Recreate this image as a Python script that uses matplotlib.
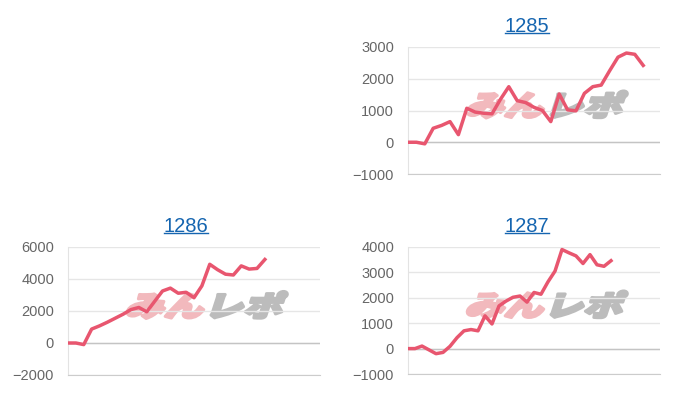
import matplotlib
matplotlib.use('Agg')
import matplotlib.pyplot as plt
from matplotlib.textpath import TextPath
from matplotlib.patches import PathPatch
from matplotlib.font_manager import FontProperties
from matplotlib.transforms import Affine2D, IdentityTransform
from matplotlib.lines import Line2D

# Datos (diferencia acumulada por dia)
maquinas = ['1285', '1286', '1287']
datos_1285 = [0, 0, -50, 440, 530, 650, 240, 1070, 950, 915, 895, 1350, 1750, 1310,
              1250, 1100, 1000, 650, 1520, 1020, 990, 1540, 1750, 1800, 2250, 2680,
              2810, 2770, 2420]
datos_1286 = [0, 0, -100, 870, 1070, 1300, 1550, 1800, 2090, 2220, 1950, 2600, 3250,
              3430, 3110, 3170, 2830, 3570, 4920, 4580, 4300, 4250, 4820, 4620, 4660,
              5220]
datos_1287 = [0, 0, 100, -50, -200, -150, 90, 430, 700, 750, 700, 1290, 970, 1680,
              1870, 2020, 2070, 1830, 2210, 2140, 2630, 3050, 3900, 3770, 3650, 3350,
              3700, 3300, 3240, 3460]
dias_eje = [30, 32, 36]  # cantidad de intervalos en el eje x de cada grafico

yticks_1285 = [-1000, 0, 1000, 2000, 3000]
yticks_1286 = [-2000, 0, 2000, 4000, 6000]
yticks_1287 = [-1000, 0, 1000, 2000, 3000, 4000]

plt.rcParams['font.family'] = ['Liberation Sans', 'DejaVu Sans']

W, H = 700, 400
fig = plt.figure(figsize=(W / 100, H / 100), dpi=100)

# posiciones de los ejes en pixeles (izq, arriba, der, abajo)
cajas = [(408, 47, 660, 174), (68, 247, 320, 375), (408, 247, 660, 374)]
titulos_pos = [(527, 31.5), (186, 231.5), (527, 231.5)]
series = [datos_1285, datos_1286, datos_1287]
yticks = [yticks_1285, yticks_1286, yticks_1287]

color_linea = '#e8566f'
fp_logo = FontProperties(family='Noto Sans CJK JP', weight='heavy')


def marca_agua(ax, cx, cy):
    # logo "みんレポ" aproximado, inclinado y detras de la linea
    p1 = TextPath((0, 0), 'みん', size=1, prop=fp_logo)
    p2 = TextPath((0, 0), 'レポ', size=1, prop=fp_logo)
    e1 = p1.get_extents()
    e2 = p2.get_extents()
    total = e1.x1 + 0.05 + e2.x1
    alto = max(e1.y1, e2.y1) - min(e1.y0, e2.y0)
    sx = 156 / total
    sy = 27 / alto
    base = min(e1.y0, e2.y0)
    for path, dx, col in [(p1, 0, '#f2b9bd'), (p2, e1.x1 + 0.05, '#bcbcbc')]:
        tr = (Affine2D().translate(dx - total / 2, -base - alto / 2)
              .scale(sx, sy).skew_deg(18, 0).translate(cx, cy)
              .scale(1 / 100) + fig.dpi_scale_trans)
        ax.add_patch(PathPatch(path, transform=tr, facecolor=col,
                               edgecolor=col, lw=2.2, joinstyle='round',
                               zorder=0.5))


textos = []
for i, nombre in enumerate(maquinas):
    x0, y0, x1, y1 = cajas[i]
    ax = fig.add_axes([x0 / W, 1 - y1 / H, (x1 - x0) / W, (y1 - y0) / H])
    datos = series[i]
    ax.plot(range(len(datos)), datos, color=color_linea, lw=2.5, zorder=3,
            solid_joinstyle='round')
    ax.set_xlim(0, dias_eje[i])
    ax.set_ylim(yticks[i][0], yticks[i][-1])
    ax.set_yticks(yticks[i])
    ax.set_xticks([])
    ax.grid(axis='y', color='#e6e6e6', lw=1)
    ax.axhline(0, color='#c4c4c4', lw=1, zorder=1)
    for lado in ['top', 'right']:
        ax.spines[lado].set_visible(False)
    ax.spines['left'].set_color('#e3e3e3')
    ax.spines['bottom'].set_color('#cccccc')
    ax.tick_params(axis='y', length=0, pad=10, labelsize=10.5, labelcolor='#666666')
    ax.set_axisbelow(True)

    marca_agua(ax, (x0 + x1) / 2 + 12, H - (y0 + y1) / 2 + 6)

    tx, ty = titulos_pos[i]
    t = fig.text(tx / W, 1 - ty / H, nombre, ha='center', va='baseline',
                 color='#1565b0', fontsize=14.5)
    textos.append(t)

# subrayado de los titulos (como enlaces)
fig.canvas.draw()
for t in textos:
    bb = t.get_window_extent()
    yb = t.get_position()[1] * H - 1.6
    fig.add_artist(Line2D([bb.x0, bb.x1], [yb, yb], transform=IdentityTransform(),
                          color='#1565b0', lw=1.0))

fig.savefig('out.png', dpi=100)
